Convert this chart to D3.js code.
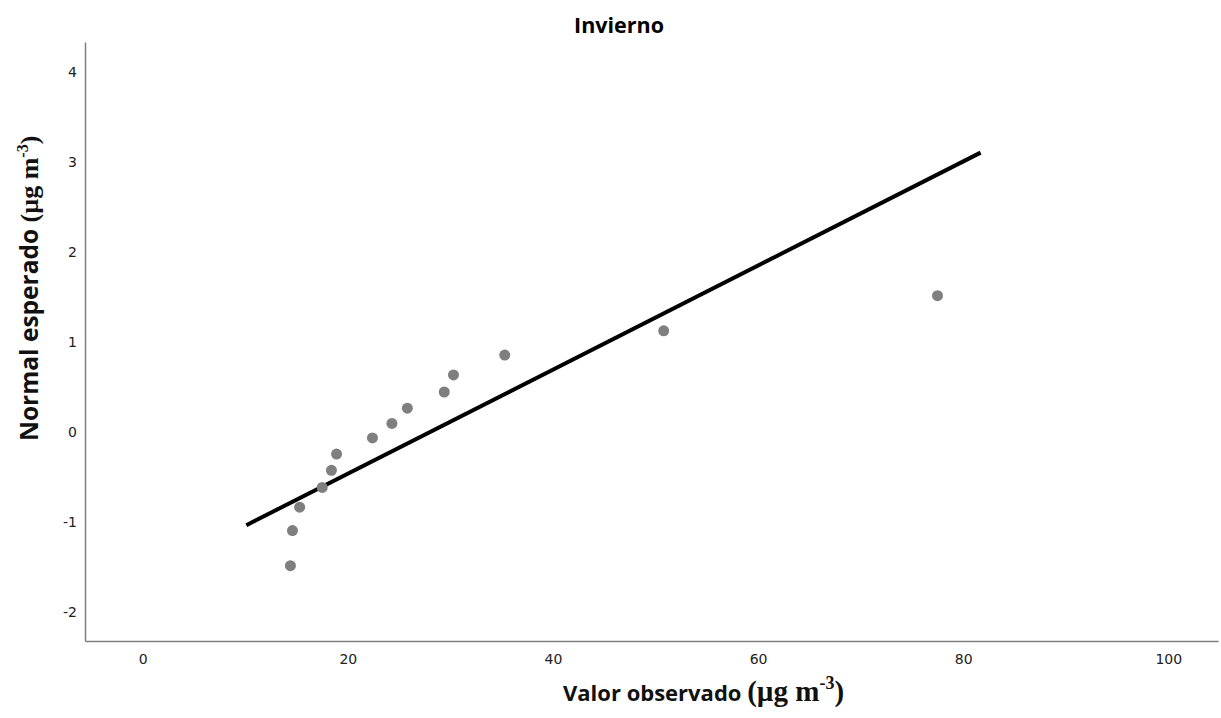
<!DOCTYPE html>
<html>
<head>
<meta charset="utf-8">
<script src="https://cdn.jsdelivr.net/npm/d3@7"></script>
<style>
  body { margin: 0; background: #fff; }
</style>
</head>
<body>
<div id="plotholder"></div>
<script>
const TITLE = 'Invierno'

// observed values and the expected normal quantiles
const OBSERVED = [14.4, 14.6, 15.3, 17.5, 18.4, 18.9, 22.4, 24.3, 25.8, 29.4, 30.3, 35.3, 50.8, 77.5]
const EXPECTED = [-1.48, -1.09, -0.83, -0.61, -0.42, -0.24, -0.06, 0.10, 0.27, 0.45, 0.64, 0.86, 1.13, 1.52]

// reference line end points
const LINE_X = [10.1, 81.7]
const LINE_Y = [-1.03, 3.11]

const XTICKS = [0, 20, 40, 60, 80, 100]
const YTICKS = [-2, -1, 0, 1, 2, 3, 4]

const WIDTH = 1221
const HEIGHT = 718
const plot = { left: 85, right: 1218, top: 42, bottom: 641 }

const createsvg = (holderselector) => {
  const svg = d3.select(holderselector).append('svg')
    .attr('width', WIDTH)
    .attr('height', HEIGHT)
  return svg
}

const createscales = () => {
  /* domains picked so that 0..100 and -2..4 land where the reference puts them */
  const xscale = d3.scaleLinear()
    .domain([-5.63, 104.85])
    .range([plot.left, plot.right])
  const yscale = d3.scaleLinear()
    .domain([-2.317, 4.339])
    .range([plot.bottom, plot.top])
  return { xscale, yscale }
}

const drawaxes = (svg, scales) => {
  const xaxis = d3.axisBottom(scales.xscale).tickValues(XTICKS).tickSize(0).tickPadding(13)
  const yaxis = d3.axisLeft(scales.yscale).tickValues(YTICKS).tickSize(0).tickPadding(8)
    .tickFormat(d => d < 0 ? '-' + Math.abs(d) : d)

  const gx = svg.append('g')
    .attr('transform', `translate(0,${plot.bottom})`)
    .call(xaxis)
  const gy = svg.append('g')
    .attr('transform', `translate(${plot.left},0)`)
    .call(yaxis)

  for (const g of [gx, gy]) {
    g.select('.domain').attr('stroke', '#808080').attr('stroke-width', 1.5)
    g.selectAll('text')
      .attr('font-family', '"DejaVu Sans", sans-serif')
      .attr('font-size', 14)
      .attr('fill', '#222')
  }
}

const unitlabel = (el, size) => {
  /* serif unit with superscript, appended to a text element */
  const u = el.append('tspan')
    .attr('font-family', '"Liberation Serif", serif')
    .attr('font-size', size)
  u.append('tspan').text('(µg m')
  u.append('tspan').attr('font-size', size * 0.62).attr('dy', -size * 0.4).text('-3')
  u.append('tspan').attr('dy', size * 0.4).text(')')
}

const drawtitles = (svg) => {
  svg.append('text')
    .attr('x', 619).attr('y', 33)
    .attr('text-anchor', 'middle')
    .attr('font-family', '"Open Sans", sans-serif')
    .attr('font-weight', 'bold')
    .attr('font-size', 21.5)
    .text(TITLE)

  const xt = svg.append('text')
    .attr('x', 563).attr('y', 701)
    .attr('font-weight', 'bold')
    .attr('fill', '#111')
  xt.append('tspan')
    .attr('font-family', '"Open Sans", sans-serif')
    .attr('font-size', 22)
    .text('Valor observado ')
  unitlabel(xt, 29)

  const yt = svg.append('text')
    .attr('transform', 'translate(38,441) rotate(-90)')
    .attr('font-weight', 'bold')
    .attr('fill', '#111')
  yt.append('tspan')
    .attr('font-family', '"Open Sans", sans-serif')
    .attr('font-size', 24.5)
    .text('Normal esperado ')
  unitlabel(yt, 26)
}

const drawdata = (svg, scales) => {
  const pts = OBSERVED.map((x, i) => [x, EXPECTED[i]])
  const linedata = LINE_X.map((x, i) => [x, LINE_Y[i]])

  svg.append('path')
    .datum(linedata)
    .attr('d', d3.line().x(d => scales.xscale(d[0])).y(d => scales.yscale(d[1])))
    .attr('stroke', '#000')
    .attr('stroke-width', 4)
    .attr('fill', 'none')

  svg.selectAll('circle')
    .data(pts)
    .enter()
    .append('circle')
    .attr('cx', d => scales.xscale(d[0]))
    .attr('cy', d => scales.yscale(d[1]))
    .attr('r', 5.5)
    .attr('fill', '#7f7f7f')
}

const svg = createsvg('#plotholder')
const scales = createscales()
drawaxes(svg, scales)
drawdata(svg, scales)
drawtitles(svg)
</script>
</body>
</html>
